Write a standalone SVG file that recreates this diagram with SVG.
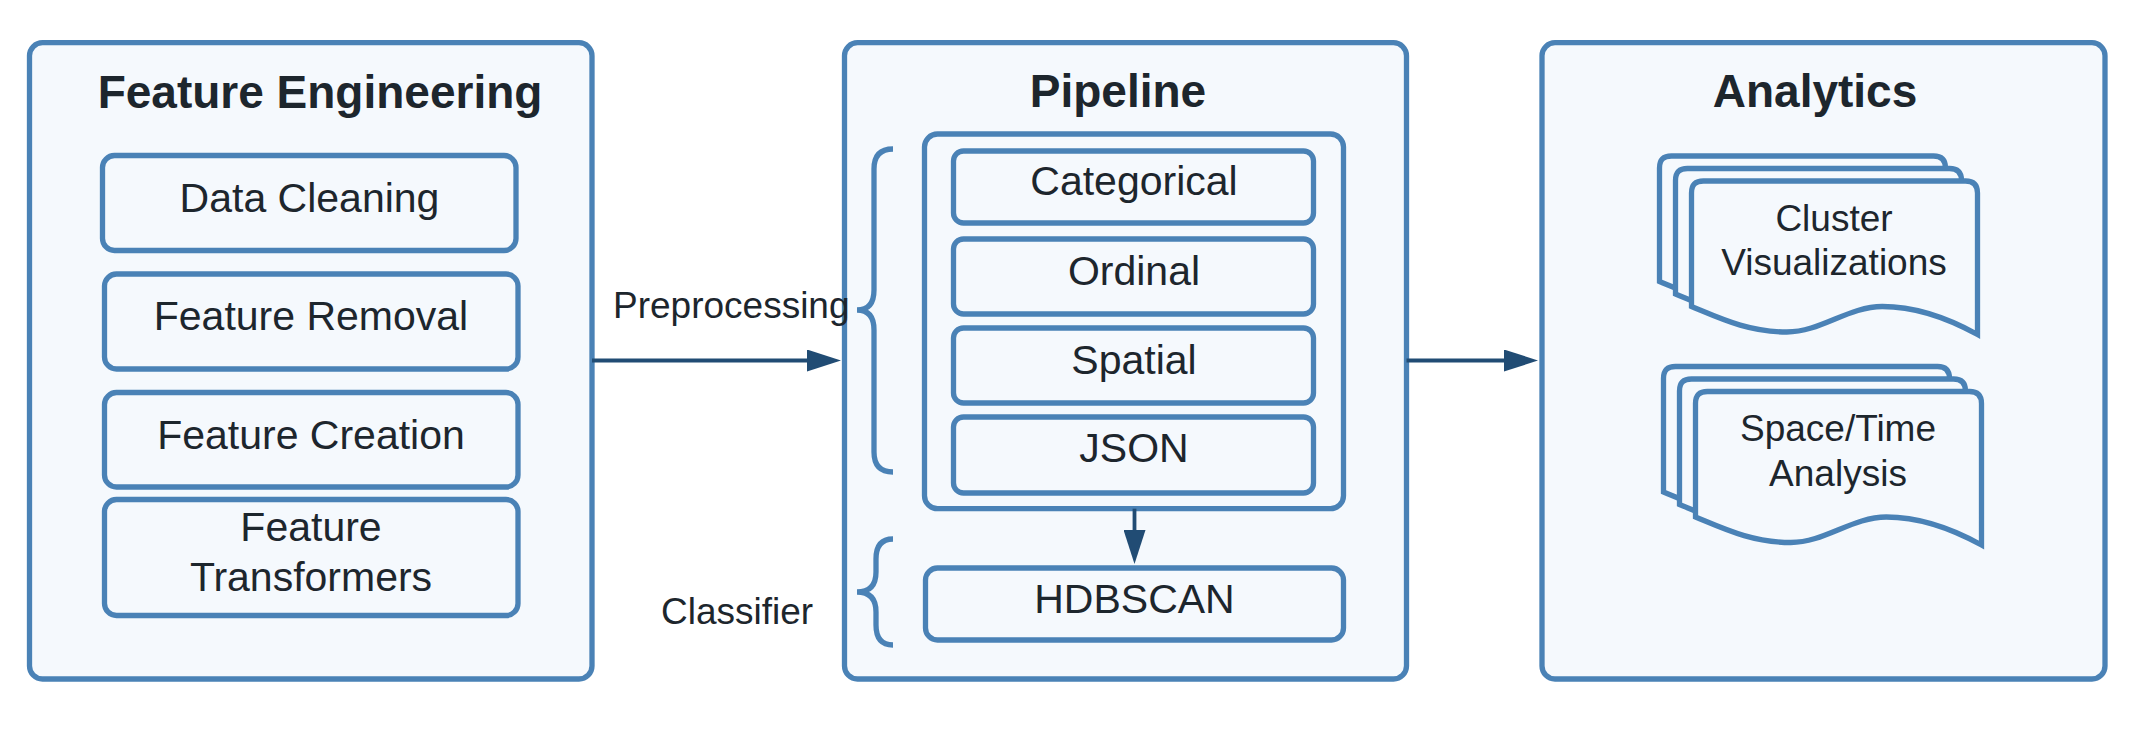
<svg xmlns="http://www.w3.org/2000/svg" width="2135" height="736" viewBox="0 0 2135 736">
  <style>
    .box { fill: #f5f9fd; stroke: #4a82b6; stroke-width: 5.3; }
    .brace { fill: none; stroke: #4a82b6; stroke-width: 5.3; stroke-linecap: butt; }
    .title { font-family: "Liberation Sans", Arial, sans-serif; font-weight: bold; font-size: 46px; fill: #1d262d; text-anchor: middle; }
    .txt { font-family: "Liberation Sans", Arial, sans-serif; font-size: 41px; fill: #1d262d; text-anchor: middle; }
    .doc { font-family: "Liberation Sans", Arial, sans-serif; font-size: 37px; fill: #1d262d; text-anchor: middle; }
    .lbl { font-family: "Liberation Sans", Arial, sans-serif; font-size: 37px; fill: #1d262d; }
    .conn { fill: none; stroke: #214c74; stroke-width: 3.8; }
  </style>
  <defs>
    <marker id="arrow" markerUnits="userSpaceOnUse" markerWidth="34" markerHeight="22" refX="0" refY="11" orient="auto">
      <path d="M0,0 L34,11 L0,22 Z" fill="#214c74"/>
    </marker>
    <path id="docshape" class="box" d="M0,125.5 L0,12 Q0,0 12,0 L274,0 Q286,0 286,12 L286,153.5 C257,137.5 223,125.5 190.8,125.5 C157,125.5 129,151 95.3,151 C57,151 29,137.5 0,125.5 Z"/>
  </defs>
  <rect width="2135" height="736" fill="#ffffff"/>

  <g id="feature-engineering">
    <rect class="box" x="29.5" y="42.7" width="562.5" height="636.3" rx="13"/>
    <text class="title" x="320" y="108">Feature Engineering</text>
  </g>
  <g id="pipeline">
    <rect class="box" x="844.5" y="42.7" width="562" height="636.3" rx="13"/>
    <text class="title" x="1118" y="107">Pipeline</text>
  </g>
  <g id="analytics">
    <rect class="box" x="1542" y="42.7" width="563" height="636.3" rx="13"/>
    <text class="title" x="1815" y="107">Analytics</text>
  </g>

  <g id="data-cleaning">
    <rect class="box" x="102.5" y="155.5" width="413.5" height="95" rx="12"/>
    <text class="txt" x="309.5" y="212">Data Cleaning</text>
  </g>
  <g id="feature-removal">
    <rect class="box" x="104.5" y="274" width="413.5" height="95" rx="12"/>
    <text class="txt" x="311" y="330">Feature Removal</text>
  </g>
  <g id="feature-creation">
    <rect class="box" x="104.5" y="392.5" width="413.5" height="94.5" rx="12"/>
    <text class="txt" x="311" y="449">Feature Creation</text>
  </g>
  <g id="feature-transformers">
    <rect class="box" x="104.5" y="499.5" width="413.5" height="116" rx="12"/>
    <text class="txt" x="311" y="541">Feature</text>
    <text class="txt" x="311" y="591">Transformers</text>
  </g>

  <g id="preprocessing-container">
    <rect class="box" x="924.5" y="134" width="419" height="374.7" rx="13"/>
  </g>
  <g id="categorical">
    <rect class="box" x="953.5" y="151" width="360" height="72" rx="10"/>
    <text class="txt" x="1134" y="195">Categorical</text>
  </g>
  <g id="ordinal">
    <rect class="box" x="953.5" y="239" width="360" height="75" rx="10"/>
    <text class="txt" x="1134" y="284.5">Ordinal</text>
  </g>
  <g id="spatial">
    <rect class="box" x="953.5" y="328" width="360" height="75" rx="10"/>
    <text class="txt" x="1134" y="374">Spatial</text>
  </g>
  <g id="json">
    <rect class="box" x="953.5" y="417" width="360" height="76" rx="10"/>
    <text class="txt" x="1134" y="462">JSON</text>
  </g>
  <g id="hdbscan">
    <rect class="box" x="925.5" y="568" width="418" height="72" rx="12"/>
    <text class="txt" x="1134.5" y="613">HDBSCAN</text>
  </g>

  <g id="preprocessing-brace">
    <path class="brace" d="M893,149 Q874,149 874,169 L874,290 Q874,310 857,310 Q874,310 874,330 L874,452 Q874,472 893,472"/>
    <text class="lbl" x="613" y="318">Preprocessing</text>
  </g>
  <g id="classifier-brace">
    <path class="brace" d="M893,539 Q876,539 876,559 L876,572 Q876,592 857,592 Q876,592 876,612 L876,625 Q876,645 893,645"/>
    <text class="lbl" x="661" y="624">Classifier</text>
  </g>

  <g id="cluster-visualizations">
    <use href="#docshape" x="1659.5" y="156"/>
    <use href="#docshape" x="1675.5" y="168.5"/>
    <use href="#docshape" x="1691.5" y="181"/>
    <text class="doc" x="1834" y="230.5">Cluster</text>
    <text class="doc" x="1834" y="275">Visualizations</text>
  </g>
  <g id="space-time-analysis">
    <use href="#docshape" x="1663.5" y="366.5"/>
    <use href="#docshape" x="1679.5" y="379"/>
    <use href="#docshape" x="1695.5" y="391.5"/>
    <text class="doc" x="1838" y="441">Space/Time</text>
    <text class="doc" x="1838" y="486">Analysis</text>
  </g>

  <g id="connectors">
    <line class="conn" x1="592" y1="360.5" x2="807" y2="360.5" marker-end="url(#arrow)"/>
    <line class="conn" x1="1406.5" y1="360.5" x2="1504" y2="360.5" marker-end="url(#arrow)"/>
    <line class="conn" x1="1134.5" y1="508.7" x2="1134.5" y2="530" marker-end="url(#arrow)"/>
  </g>
</svg>
